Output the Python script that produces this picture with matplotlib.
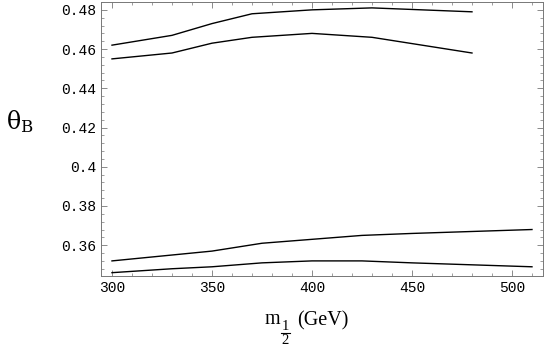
import matplotlib
matplotlib.use("Agg")
import matplotlib.pyplot as plt
from matplotlib.lines import Line2D
from matplotlib.ticker import MultipleLocator

plt.rcParams['mathtext.fontset'] = 'stix'

# curve data
x_a = [300, 330, 350, 370, 400, 430, 480]
y_a = [0.462, 0.467, 0.473, 0.478, 0.480, 0.481, 0.479]
y_b = [0.455, 0.458, 0.463, 0.466, 0.468, 0.466, 0.458]

x_c = [300, 330, 350, 375, 400, 425, 450, 510]
y_c = [0.352, 0.355, 0.357, 0.361, 0.363, 0.365, 0.366, 0.368]
y_d = [0.346, 0.348, 0.349, 0.351, 0.352, 0.352, 0.351, 0.349]

xticks = [300, 350, 400, 450, 500]
yticks = [0.36, 0.38, 0.40, 0.42, 0.44, 0.46, 0.48]
ytick_labels = ['0.36', '0.38', '0.4', '0.42', '0.44', '0.46', '0.48']

W, H = 545, 352
fig = plt.figure(figsize=(W / 100, H / 100), dpi=100)
ax = fig.add_axes([0.1853, 0.2159, 0.811, 0.7784])

for xs, ys in [(x_a, y_a), (x_a, y_b), (x_c, y_c), (x_c, y_d)]:
    ax.plot(xs, ys, color='black', lw=1.0)

ax.set_xlim(294.5, 515.5)
ax.set_ylim(0.3443, 0.484)
ax.set_xticks(xticks)
ax.set_yticks(yticks)
ax.set_yticklabels(ytick_labels)
ax.xaxis.set_minor_locator(MultipleLocator(10))
ax.yaxis.set_minor_locator(MultipleLocator(0.004))
ax.tick_params(which='both', direction='in', top=True, right=True, color='#777777')
ax.tick_params(which='major', length=4, width=0.6, labelsize=10.5)
ax.tick_params(which='minor', length=2, width=0.5)
for lbl in ax.get_xticklabels() + ax.get_yticklabels():
    lbl.set_family('Liberation Mono')
for sp in ax.spines.values():
    sp.set_color('#777777')
    sp.set_linewidth(0.7)


def fx(px):
    return px / W


def fy(py):
    return 1 - py / H


# y label
fig.text(0.037, 0.655, r'$\mathrm{\theta}_{\mathrm{B}}$', fontsize=17, ha='center', va='center',
         family='Liberation Serif', math_fontfamily='dejavuserif')

# x label: m with a built-up 1/2 subscript, then (GeV)
serif = 'Liberation Serif'
fig.text(fx(265), fy(324), 'm', fontsize=14.5, family=serif, ha='left', va='baseline')
fig.text(fx(285.5), fy(329.5), '1', fontsize=10.5, family=serif, ha='center', va='baseline')
fig.text(fx(285.5), fy(344.5), '2', fontsize=10.5, family=serif, ha='center', va='baseline')
fig.add_artist(Line2D([fx(281), fx(290)], [fy(332.5), fy(332.5)], color='black', lw=0.8))
fig.text(fx(297), fy(325), '(GeV)', fontsize=14.5, family=serif, ha='left', va='baseline')

fig.savefig('out.png', dpi=100)
